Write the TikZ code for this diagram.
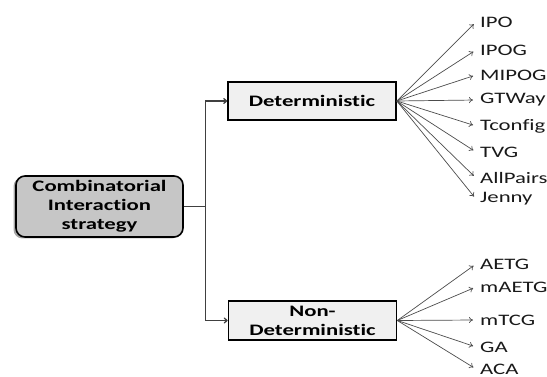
\documentclass[tikz,border=0pt]{standalone}
\usepackage{fontspec}
\setmainfont{Carlito}[FakeStretch=1.42,Ligatures=NoCommon]
\usetikzlibrary{arrows.meta,shadows}

\begin{document}
\begin{tikzpicture}[x=1pt,y=-1pt,
    root/.style = {rectangle,rounded corners=9pt,draw=black,line width=1.6pt,fill=gray!45,
                   minimum width=167pt,minimum height=61pt,inner sep=1pt,align=center,
                   font=\fontsize{16}{19}\selectfont\bfseries,
                   drop shadow={shadow xshift=-2.5pt,shadow yshift=-1.5pt,fill=gray!70,opacity=1}},
    kind/.style = {rectangle,draw=black,line width=1.6pt,fill=gray!12,
                   minimum width=168pt,minimum height=38pt,inner sep=1pt,align=center,
                   font=\fontsize{16}{19}\selectfont\bfseries},
    leaf/.style = {anchor=west,inner sep=4pt,font=\fontsize{16}{18}\selectfont,text=black!90},
    trunk/.style = {draw=black!75,line width=1.3pt},
    fan/.style = {draw=black!70,line width=0.7pt,-{To[length=4pt,width=6pt]},shorten >=3pt}]
\useasboundingbox (0,0) rectangle (547,377);
\node[root] (cis) at (99.5,206.5) {Combinatorial\\Interaction\\strategy};
\node[kind] (det) at (312,101) {Deterministic};
\node[kind,minimum height=39pt] (ndet) at (312.5,320.5) {Non-\\Deterministic};
\draw[trunk] (cis.east) -- ++(22,0) coordinate (fork);
\draw[trunk,-{To[length=4pt,width=6pt]}] (fork) |- (det);
\draw[trunk,-{To[length=4pt,width=6pt]}] (fork) |- (ndet);
\foreach \name/\y [count=\j] in {IPO/22, IPOG/50, MIPOG/75, GTWay/100, Tconfig/126, TVG/152, AllPairs/178, Jenny/199}
{
    \node[leaf] (d\j) at (476,\y) {\name};
    \draw[fan] (det.east) -- (d\j.west);
}
\foreach \name/\y [count=\j] in {AETG/264, mAETG/287, mTCG/320, GA/347, ACA/369}
{
    \node[leaf] (n\j) at (476,\y) {\name};
    \draw[fan] (ndet.east) -- (n\j.west);
}
\end{tikzpicture}
\end{document}
